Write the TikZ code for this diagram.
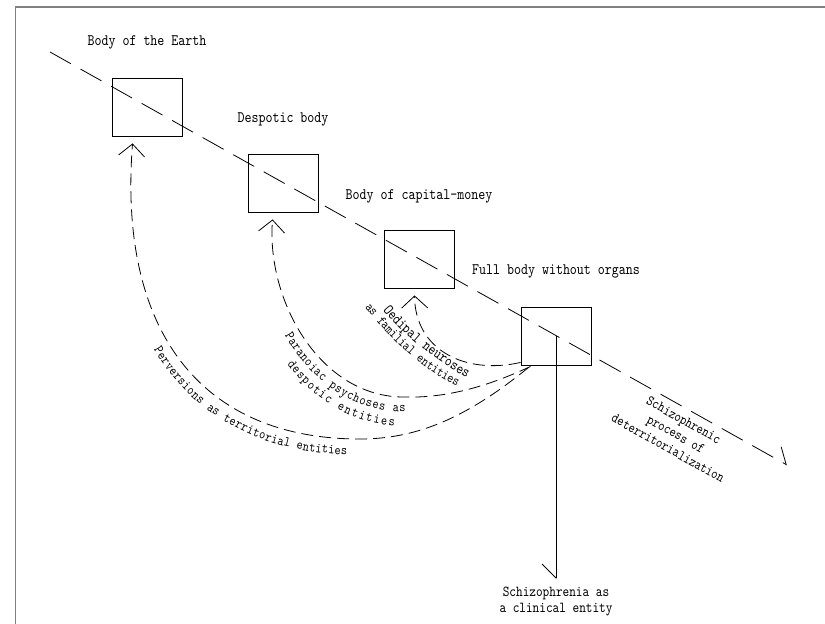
\documentclass[tikz,border=0pt]{standalone}
\usepackage{fontspec}
\newfontfamily\lblfont{lmmono10-regular.otf}[FakeStretch=0.833]
\usetikzlibrary{arrows.meta,decorations.text,calc}
\tikzset{
  box/.style={draw, line width=0.9pt, minimum width=70pt, minimum height=58pt, inner sep=0pt},
  lbl/.style={font=\lblfont\fontsize{16}{18}\selectfont, inner sep=0pt},
  slbl/.style={font=\lblfont\fontsize{14.5}{16}\selectfont, inner sep=0pt, align=center},
  axisline/.style={line width=0.8pt, dash pattern=on 24pt off 11pt},
  feed/.style={line width=0.8pt, dash pattern=on 12pt off 6pt, -{Straight Barb[length=12pt,width=26pt]}},
  frameline/.style={draw=gray, line width=1.5pt},
  pathtext/.style={decorate, decoration={text along path, text={|\lblfont\fontsize{14}{14}\selectfont|#1}}},
  bigpathtext/.style={decorate, decoration={text along path, text={|\lblfont\fontsize{15.5}{15.5}\selectfont|#1}}}
}
\begin{document}
\begin{tikzpicture}[x=1pt,y=-1pt]
\useasboundingbox (0,0) rectangle (825,624);
\draw[frameline] (825,7) -- (15.5,7) -- (15.5,624);

% boxes
\node[box] (b1) at (147,107) {};
\node[box] (b2) at (283,183) {};
\node[box] (b3) at (419,259) {};
\node[box] (b4) at (556,336) {};

% titles
\node[lbl] (l1) at ($(b1.center)+(0,-65)$) {Body of the Earth};
\node[lbl] (l2) at ($(b2.center)+(0,-64)$) {Despotic body};
\node[lbl] (l3) at ($(b3.center)+(0,-63)$) {Body of capital-money};
\node[lbl] (l4) at ($(b4.center)+(0,-65)$) {Full body without organs};

% main axis
\coordinate (s) at (50,52);
\coordinate (e) at (787,465);
\draw[axisline, -{Straight Barb[left, length=13pt, width=26pt]}] (s) -- (e);

% clinical entity
\node[slbl, font=\lblfont\fontsize{15.2}{16}\selectfont] (cl) at (556,601) {Schizophrenia as\\a clinical entity};
\coordinate (ce) at (556,579);
\draw[line width=0.8pt, -{Straight Barb[right, length=14pt, width=28pt]}] (b4.center) -- (ce);

% process label
\node[slbl, rotate=-29.3] (sp) at (676,434) {Schizophrenic\\process of\\deterritorialization};

% feedback curves
\coordinate (t1) at ($(b1.south west)+(21,7)$);
\coordinate (t2) at ($(b2.south west)+(25,7)$);
\coordinate (t3) at ($(b3.south west)+(31,7)$);
\coordinate (p1) at ($(b4.south west)+(8,2)$);
\coordinate (p2) at ($(b4.south west)+(10,1)$);
\coordinate (p3) at ($(b4.south west)+(0,-3)$);

\draw[feed] (p1) .. controls (470,415) and (420,439) .. (360,439) .. controls (200,439) and (118,330) .. (t1);
\draw[feed] (p2) .. controls (480,390) and (440,398) .. (405,397) .. controls (320,398) and (266,300) .. (t2);
\draw[feed] (p3) .. controls (465,375) and (415,350) .. (t3);

% curved labels
\path[pathtext={Perversions as territorial entities},
      decoration={raise=-16pt, text align={left indent=204pt}}]
  (t1) .. controls (118,330) and (200,439) .. (360,439) .. controls (420,439) and (470,415) .. (p1);
\path[pathtext={Paranoiac psychoses as},
      decoration={raise=-15pt, text align={left indent=113pt}}]
  (t2) .. controls (266,300) and (320,398) .. (405,397) .. controls (440,398) and (480,390) .. (p2);
\path[pathtext={despotic entities},
      decoration={raise=-29pt, text align={left indent=135pt}}]
  (t2) .. controls (266,300) and (320,398) .. (405,397) .. controls (440,398) and (480,390) .. (p2);

\path[bigpathtext={Oedipal neuroses}]
  (383,310) .. controls (405,337) and (440,364) .. (471,380) -- (495,392);
\path[pathtext={as familial entities}]
  (365,307) .. controls (390,340) and (425,372) .. (461,388) -- (485,398);
\end{tikzpicture}
\end{document}
